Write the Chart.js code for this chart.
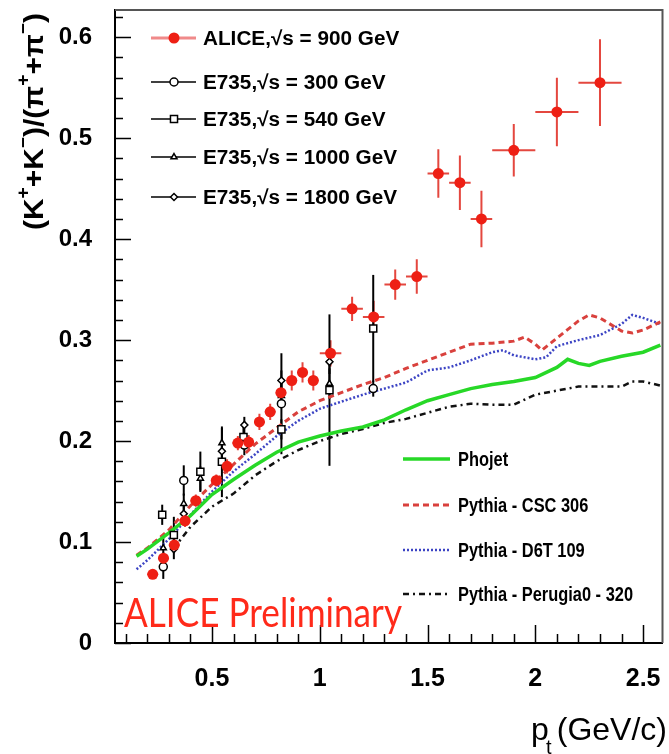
<!DOCTYPE html>
<html>
<head>
<meta charset="utf-8">
<script src="https://cdn.jsdelivr.net/npm/chart.js@4.4.0/dist/chart.umd.min.js"></script>
<style>
  html, body { margin: 0; padding: 0; background: #fff; }
  #wrap { width: 669px; height: 754px; }
</style>
</head>
<body>
<div id="wrap"><canvas id="chart" width="669" height="754"></canvas></div>
<script>

// ALICE, sqrt(s) = 900 GeV
const alicePt    = [0.225, 0.275, 0.325, 0.375, 0.425, 0.52, 0.57, 0.62, 0.67, 0.72, 0.77, 0.82, 0.87, 0.92, 0.97, 1.05, 1.15, 1.25, 1.35, 1.45, 1.55, 1.65, 1.75, 1.9, 2.1, 2.3];
const aliceRatio = [0.068, 0.084, 0.097, 0.121, 0.141, 0.161, 0.175, 0.198, 0.199, 0.219, 0.229, 0.248, 0.260, 0.268, 0.260, 0.287, 0.331, 0.323, 0.355, 0.363, 0.465, 0.456, 0.420, 0.488, 0.526, 0.555];
const aliceErrY  = [0.004, 0.006, 0.006, 0.006, 0.006, 0.006, 0.007, 0.007, 0.007, 0.008, 0.008, 0.010, 0.010, 0.010, 0.010, 0.013, 0.012, 0.016, 0.015, 0.017, 0.024, 0.027, 0.028, 0.026, 0.034, 0.043];
const aliceErrX  = [0.025, 0.025, 0.025, 0.025, 0.025, 0.025, 0.025, 0.025, 0.025, 0.025, 0.025, 0.025, 0.025, 0.025, 0.025, 0.05, 0.05, 0.05, 0.05, 0.05, 0.05, 0.05, 0.05, 0.1, 0.1, 0.1];

// E735 points
const e300Pt  = [0.274, 0.369, 0.65, 0.822, 1.248];
const e300Y   = [0.0755, 0.161, 0.196, 0.237, 0.252];
const e300Err = [0.012, 0.015, 0.010, 0.050, 0.008];

const e540Pt  = [0.269, 0.323, 0.446, 0.546, 0.646, 0.822, 1.045, 1.248];
const e540Y   = [0.127, 0.107, 0.1696, 0.1795, 0.204, 0.2116, 0.2505, 0.3116];
const e540Err = [0.010, 0.018, 0.020, 0.035, 0.012, 0.010, 0.075, 0.053];

const e1000Pt  = [0.274, 0.369, 0.446, 0.546, 0.822, 1.045];
const e1000Y   = [0.094, 0.138, 0.163, 0.198, 0.245, 0.257];
const e1000Err = [0.012, 0.010, 0.012, 0.015, 0.012, 0.015];

const e1800Pt  = [0.323, 0.369, 0.546, 0.65, 0.822, 1.045];
const e1800Y   = [0.093, 0.128, 0.190, 0.216, 0.260, 0.2785];
const e1800Err = [0.010, 0.010, 0.012, 0.008, 0.010, 0.012];

// model curves
const phojetPt = [0.15, 0.2, 0.3, 0.4, 0.5, 0.6, 0.7, 0.8, 0.9, 1.0, 1.1, 1.2, 1.3, 1.4, 1.5, 1.6, 1.7, 1.8, 1.9, 2.0, 2.1, 2.15, 2.2, 2.25, 2.3, 2.4, 2.5, 2.58];
const phojetY  = [0.086, 0.093, 0.109, 0.126, 0.147, 0.162, 0.176, 0.189, 0.199, 0.205, 0.210, 0.214, 0.221, 0.231, 0.240, 0.246, 0.252, 0.256, 0.259, 0.263, 0.273, 0.281, 0.277, 0.275, 0.279, 0.284, 0.288, 0.295];

const cscPt = [0.15, 0.2, 0.3, 0.4, 0.5, 0.6, 0.7, 0.8, 0.9, 1.0, 1.1, 1.2, 1.3, 1.4, 1.5, 1.6, 1.7, 1.8, 1.9, 1.95, 2.0, 2.03, 2.1, 2.2, 2.25, 2.3, 2.4, 2.45, 2.5, 2.58];
const cscY  = [0.087, 0.094, 0.112, 0.136, 0.157, 0.177, 0.197, 0.213, 0.229, 0.240, 0.248, 0.256, 0.263, 0.272, 0.280, 0.288, 0.296, 0.297, 0.299, 0.303, 0.296, 0.290, 0.302, 0.319, 0.325, 0.322, 0.309, 0.307, 0.310, 0.318];

const d6tPt = [0.15, 0.2, 0.3, 0.4, 0.5, 0.6, 0.7, 0.8, 0.9, 1.0, 1.1, 1.2, 1.3, 1.4, 1.5, 1.6, 1.7, 1.8, 1.85, 1.9, 2.0, 2.05, 2.1, 2.2, 2.3, 2.4, 2.45, 2.5, 2.58];
const d6tY  = [0.073, 0.082, 0.103, 0.127, 0.150, 0.170, 0.187, 0.205, 0.220, 0.232, 0.239, 0.246, 0.252, 0.258, 0.270, 0.273, 0.280, 0.288, 0.290, 0.285, 0.281, 0.283, 0.294, 0.300, 0.305, 0.316, 0.325, 0.322, 0.316];

const perugiaPt = [0.32, 0.4, 0.5, 0.6, 0.7, 0.8, 0.9, 1.0, 1.1, 1.2, 1.3, 1.4, 1.5, 1.6, 1.7, 1.8, 1.9, 2.0, 2.1, 2.2, 2.3, 2.4, 2.45, 2.5, 2.58];
const perugiaY  = [0.093, 0.115, 0.135, 0.148, 0.166, 0.180, 0.191, 0.200, 0.207, 0.212, 0.218, 0.222, 0.228, 0.234, 0.237, 0.236, 0.236, 0.246, 0.250, 0.254, 0.254, 0.254, 0.259, 0.259, 0.255];

// axis ticks
const xTickLabels = [0.5, 1, 1.5, 2, 2.5];
const yTickLabels = [0, 0.1, 0.2, 0.3, 0.4, 0.5, 0.6];

const topLegend = ['ALICE,\u221As = 900 GeV', 'E735,\u221As = 300 GeV', 'E735,\u221As = 540 GeV', 'E735,\u221As = 1000 GeV', 'E735,\u221As = 1800 GeV'];
const modelLegend = ['Phojet', 'Pythia - CSC 306', 'Pythia - D6T 109', 'Pythia - Perugia0 - 320'];


function toPoints(xs, ys) {
  return xs.map(function(x, i) { return {x: x, y: ys[i]}; });
}

// draw text squeezed to a given width (the original fonts are narrow)
function fitText(ctx, text, x, y, width) {
  let w = ctx.measureText(text).width;
  ctx.save();
  ctx.translate(x, y);
  ctx.scale(width / w, 1);
  ctx.fillText(text, 0, 0);
  ctx.restore();
}

/*
* error bars, drawn under the markers
*/
const errorBars = {
  id: 'errorBars',
  beforeDatasetsDraw(chart) {
    let ctx = chart.ctx, xs = chart.scales.x, ys = chart.scales.y;
    chart.data.datasets.forEach(function(ds) {
      if (!ds.errY) return;
      ctx.save();
      ctx.strokeStyle = ds.errColor;
      ctx.lineWidth = ds.errWidth;
      ds.data.forEach(function(p, j) {
        let px = xs.getPixelForValue(p.x), py = ys.getPixelForValue(p.y);
        ctx.beginPath();
        ctx.moveTo(px, ys.getPixelForValue(p.y - ds.errY[j]));
        ctx.lineTo(px, ys.getPixelForValue(p.y + ds.errY[j]));
        if (ds.errX) {
          ctx.moveTo(xs.getPixelForValue(p.x - ds.errX[j]), py);
          ctx.lineTo(xs.getPixelForValue(p.x + ds.errX[j]), py);
        }
        ctx.stroke();
      });
      ctx.restore();
    });
  }
};

/*
* ROOT style frame, inward ticks, titles, legends
*/
const decorations = {
  id: 'decorations',
  afterDraw(chart) {
    let ctx = chart.ctx, xs = chart.scales.x, ys = chart.scales.y, a = chart.chartArea;

    ctx.save();
    // frame top / right
    ctx.strokeStyle = '#555';
    ctx.lineWidth = 2;
    ctx.beginPath();
    ctx.moveTo(a.left, a.top); ctx.lineTo(a.right, a.top); ctx.lineTo(a.right, a.bottom);
    ctx.stroke();

    // ticks
    ctx.strokeStyle = '#000';
    ctx.lineWidth = 1.5;
    ctx.beginPath();
    for (let i = 0; i <= 31; i++) {
      let v = i * 0.02, py = Math.round(ys.getPixelForValue(v)) + 0.5;
      let len = (i % 5 === 0) ? 16 : 8;
      ctx.moveTo(a.left, py); ctx.lineTo(a.left + len, py);
    }
    for (let i = 1; i <= 25; i++) {
      let v = i * 0.1, px = Math.round(xs.getPixelForValue(v)) + 0.5;
      let len = (i % 5 === 0) ? 18 : 9;
      ctx.moveTo(px, a.bottom); ctx.lineTo(px, a.bottom - len);
    }
    ctx.stroke();

    // y title (K+ + K-)/(pi+ + pi-)
    let segs = [['(K', 0], ['+', 1], ['+K', 0], ['\u2212', 1], [')/(\u03C0', 0], ['+', 1], ['+\u03C0', 0], ['\u2212', 1], [')', 0]];
    let big = 'bold 28px "Liberation Sans", Arial, sans-serif', small = 'bold 18px "Liberation Sans", Arial, sans-serif';
    let total = 0;
    segs.forEach(function(s) { ctx.font = s[1] ? small : big; total += ctx.measureText(s[0]).width; });
    let stretch = 217 / total;
    ctx.translate(43, 13 + 217);
    ctx.rotate(-Math.PI / 2);
    ctx.scale(stretch, 1);
    ctx.fillStyle = '#000';
    ctx.textBaseline = 'alphabetic';
    let cx = 0;
    segs.forEach(function(s) {
      ctx.font = s[1] ? small : big;
      ctx.fillText(s[0], cx, s[1] ? -14 : 0);
      cx += ctx.measureText(s[0]).width;
    });
    ctx.restore();

    // x title p_t (GeV/c)
    ctx.save();
    ctx.fillStyle = '#000';
    ctx.textBaseline = 'alphabetic';
    ctx.font = '32px "Liberation Sans", Arial, sans-serif';
    ctx.textAlign = 'right';
    ctx.fillText('(GeV/c)', 667, 740);
    ctx.textAlign = 'left';
    ctx.fillText('p', 531, 740);
    ctx.font = '20px "Liberation Sans", Arial, sans-serif';
    ctx.fillText('t', 546, 754);
    ctx.restore();

    // ALICE Preliminary
    ctx.save();
    ctx.fillStyle = '#ff2a1a';
    ctx.textBaseline = 'alphabetic';
    ctx.font = '40px Lato, "Open Sans", sans-serif';
    fitText(ctx, 'ALICE Preliminary', 124, 627, 278);
    ctx.restore();

    // data legend, top left
    ctx.save();
    let rowsTop = [38, 82, 119, 157, 197];
    let styles = chart.data.datasets.slice(0, 5);
    ctx.font = 'bold 20px "Liberation Sans", Arial, sans-serif';
    ctx.textBaseline = 'middle';
    let sx = 194 / ctx.measureText(topLegend[3]).width;
    rowsTop.forEach(function(y, i) {
      let ds = styles[i];
      ctx.strokeStyle = i === 0 ? '#f08a8a' : '#000';
      ctx.lineWidth = i === 0 ? 3 : 1.5;
      ctx.beginPath(); ctx.moveTo(151, y); ctx.lineTo(196, y); ctx.stroke();
      ctx.fillStyle = ds.backgroundColor;
      ctx.strokeStyle = ds.borderColor;
      ctx.lineWidth = ds.borderWidth;
      Chart.helpers.drawPoint(ctx, {pointStyle: ds.pointStyle, radius: ds.pointRadius, rotation: 0, borderWidth: ds.borderWidth}, 174, y);
      ctx.fillStyle = '#000';
      ctx.save();
      ctx.translate(203, y + 1);
      ctx.scale(sx, 1);
      ctx.fillText(topLegend[i], 0, 0);
      ctx.restore();
    });
    ctx.restore();

    // model legend, bottom right
    ctx.save();
    let rowsBottom = [459, 505, 550, 594];
    let models = chart.data.datasets.slice(5);
    ctx.font = 'bold 21px "Liberation Sans", Arial, sans-serif';
    ctx.textBaseline = 'middle';
    let sx2 = 175 / ctx.measureText(modelLegend[3]).width;
    rowsBottom.forEach(function(y, i) {
      let ds = models[i];
      ctx.strokeStyle = ds.borderColor;
      ctx.lineWidth = ds.borderWidth;
      ctx.setLineDash(ds.borderDash || []);
      ctx.beginPath(); ctx.moveTo(403, y); ctx.lineTo(450, y); ctx.stroke();
      ctx.setLineDash([]);
      ctx.fillStyle = '#000';
      ctx.save();
      ctx.translate(458, y + 1);
      ctx.scale(sx2, 1);
      ctx.fillText(modelLegend[i], 0, 0);
      ctx.restore();
    });
    ctx.restore();
  }
};


function errSet(label, xs, ys, err, style, radius) {
  return {
    type: 'scatter',
    label: label,
    data: toPoints(xs, ys),
    errY: err,
    errColor: '#000',
    errWidth: 2,
    pointStyle: style,
    pointRadius: radius,
    backgroundColor: '#fff',
    borderColor: '#000',
    borderWidth: 1.5
  };
}

function curveSet(label, xs, ys, color, dash, width) {
  return {
    type: 'line',
    label: label,
    data: toPoints(xs, ys),
    borderColor: color,
    borderDash: dash,
    borderWidth: width,
    pointRadius: 0,
    fill: false,
    tension: 0
  };
}

const datasets = [
  {
    type: 'scatter',
    label: topLegend[0],
    data: toPoints(alicePt, aliceRatio),
    errY: aliceErrY,
    errX: aliceErrX,
    errColor: '#e4473f',
    errWidth: 2,
    pointStyle: 'circle',
    pointRadius: 5.5,
    backgroundColor: '#ee1f14',
    borderColor: '#ee1f14',
    borderWidth: 0
  },
  errSet(topLegend[1], e300Pt, e300Y, e300Err, 'circle', 4),
  errSet(topLegend[2], e540Pt, e540Y, e540Err, 'rect', 5),
  errSet(topLegend[3], e1000Pt, e1000Y, e1000Err, 'triangle', 3.5),
  errSet(topLegend[4], e1800Pt, e1800Y, e1800Err, 'rectRot', 3.5),
  curveSet(modelLegend[0], phojetPt, phojetY, '#27d827', [], 3.5),
  curveSet(modelLegend[1], cscPt, cscY, '#d9413d', [6, 4], 3),
  curveSet(modelLegend[2], d6tPt, d6tY, '#3c44c4', [2, 2], 2.5),
  curveSet(modelLegend[3], perugiaPt, perugiaY, '#111', [6, 4, 2, 4], 2.5)
];

const labelFont = '"Liberation Sans", Arial, sans-serif';

new Chart(document.getElementById('chart'), {
  type: 'scatter',
  data: {datasets: datasets},
  plugins: [errorBars, decorations],
  options: {
    responsive: false,
    animation: false,
    devicePixelRatio: 1,
    layout: {padding: {left: 0, right: 2, top: 10, bottom: 0}},
    plugins: {
      legend: {display: false},
      tooltip: {enabled: false}
    },
    scales: {
      x: {
        type: 'linear',
        min: 0.05,
        max: 2.59,
        grid: {display: false},
        border: {display: true, color: '#000', width: 2},
        afterBuildTicks: function(axis) { axis.ticks = xTickLabels.map(function(v) { return {value: v}; }); },
        afterFit: function(scale) {
          scale.height = 111;
          scale.paddingLeft = 0; scale.paddingRight = 0;
        },
        ticks: {
          color: '#000',
          font: {family: labelFont, size: 25, weight: 'bold'},
          padding: 13,
          maxRotation: 0,
          callback: function(v) { return String(v); }
        }
      },
      y: {
        type: 'linear',
        min: 0,
        max: 0.627,
        grid: {display: false},
        border: {display: true, color: '#000', width: 2},
        afterBuildTicks: function(axis) { axis.ticks = yTickLabels.map(function(v) { return {value: v}; }); },
        afterFit: function(scale) {
          scale.width = 115;
          scale.paddingTop = 0; scale.paddingBottom = 0;
        },
        ticks: {
          color: '#000',
          font: {family: labelFont, size: 24, weight: 'bold'},
          padding: 15,
          callback: function(v) { return v === 0 ? '0' : v.toFixed(1); }
        }
      }
    }
  }
});
</script>
